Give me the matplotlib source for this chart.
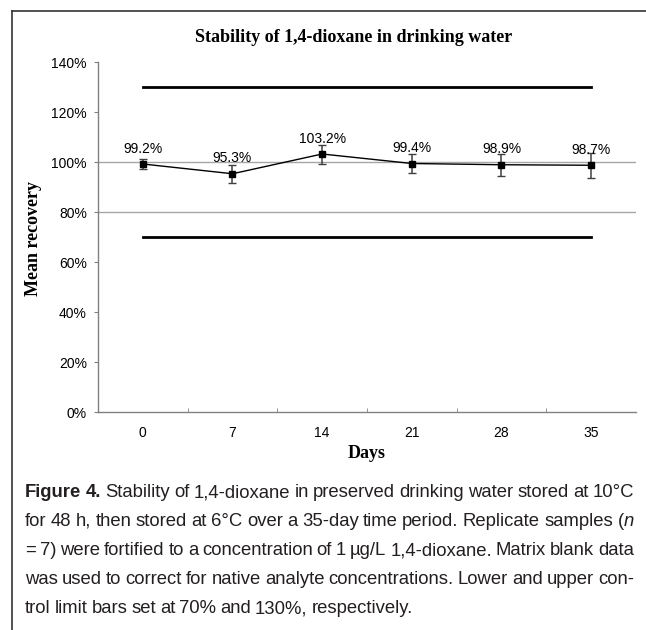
import matplotlib

matplotlib.use("Agg")
import matplotlib.pyplot as plt
from matplotlib.lines import Line2D
import numpy as np

# ---------------------------------------------------------------------------
# Data
# ---------------------------------------------------------------------------
DAYS = ["0", "7", "14", "21", "28", "35"]
MEAN_RECOVERY = [0.992, 0.953, 1.032, 0.994, 0.989, 0.987]
RECOVERY_ERR = [0.020, 0.036, 0.038, 0.038, 0.044, 0.050]
LOWER_LIMIT = 0.70
UPPER_LIMIT = 1.30
Y_TICKS = [0.0, 0.2, 0.4, 0.6, 0.8, 1.0, 1.2, 1.4]
Y_TICK_LABELS = ["0%", "20%", "40%", "60%", "80%", "100%", "120%", "140%"]
GRID_LEVELS = [0.8, 1.0]

TITLE = "Stability of 1,4-dioxane in drinking water"
X_LABEL = "Days"
Y_LABEL = "Mean recovery"

CAPTION_LINES = [
    "Figure 4. Stability of 1,4-dioxane in preserved drinking water stored at 10°C",
    "for 48 h, then stored at 6°C over a 35-day time period. Replicate samples (n",
    "= 7) were fortified to a concentration of 1 µg/L 1,4-dioxane. Matrix blank data",
    "was used to correct for native analyte concentrations. Lower and upper con-",
    "trol limit bars set at 70% and 130%, respectively.",
]

W, H = 646, 630
SANS = ["Liberation Sans", "DejaVu Sans"]
SERIF = ["Liberation Serif", "DejaVu Serif"]
CAPTION_FONT = ["Liberation Sans", "DejaVu Sans"]


def px(x, y):
    """pixel position (from top-left) -> figure fraction"""
    return x / W, 1 - y / H


def word_pieces(line_idx, word_idx, word):
    if line_idx == 0 and word_idx < 2:
        return [(word, "bold")]
    if word == "(n":
        return [("(", "normal"), ("n", "italic")]
    return [(word, "normal")]


def draw_caption(fig, x0, x1, y0, step, size):
    # justified paragraph: every line but the last is stretched to x1
    renderer = fig.canvas.get_renderer()
    for li, line in enumerate(CAPTION_LINES):
        words = []
        for wi, w in enumerate(line.split(" ")):
            pieces = []
            for txt, style in word_pieces(li, wi, w):
                t = fig.text(
                    0, 0, txt,
                    family=CAPTION_FONT,
                    fontsize=size,
                    fontweight="bold" if style == "bold" else "normal",
                    fontstyle="italic" if style == "italic" else "normal",
                    color="#231f20",
                    va="baseline",
                    ha="left",
                )
                pieces.append((t, t.get_window_extent(renderer).width))
            words.append(pieces)
        widths = [sum(p[1] for p in pieces) for pieces in words]
        last = li == len(CAPTION_LINES) - 1
        gap = size * 0.3 if last else (x1 - x0 - sum(widths)) / (len(words) - 1)
        x = x0
        y = y0 + li * step
        for pieces, wsum in zip(words, widths):
            cx = x
            for t, w in pieces:
                t.set_position(px(cx, y))
                cx += w
            x += wsum + gap


fig = plt.figure(figsize=(W / 100, H / 100), dpi=100)
fig.patch.set_facecolor("white")

ax = fig.add_axes([98 / W, 1 - 412 / H, (636 - 98) / W, (412 - 62) / H])
xs = np.arange(len(DAYS))

for lvl in GRID_LEVELS:
    ax.axhline(lvl, color="#a6a6a6", linewidth=1.0, zorder=1)

ax.plot([xs[0], xs[-1]], [UPPER_LIMIT, UPPER_LIMIT], color="black", linewidth=2.0, zorder=2)
ax.plot([xs[0], xs[-1]], [LOWER_LIMIT, LOWER_LIMIT], color="black", linewidth=2.0, zorder=2)

ax.errorbar(
    xs, MEAN_RECOVERY, yerr=RECOVERY_ERR,
    fmt="s-", color="black", markersize=4.5, linewidth=1.0,
    ecolor="#404040", elinewidth=1.1, capsize=2.6, capthick=1.0, zorder=3,
)
for x, v in zip(xs, MEAN_RECOVERY):
    ax.annotate(
        f"{v * 100:.1f}%", (x, v), xytext=(0, 11), textcoords="offset points",
        ha="center", va="center", fontsize=10, family=SANS, color="black",
    )

ax.set_xlim(-0.5, len(DAYS) - 0.5)
ax.set_ylim(0, 1.4)
ax.set_yticks(Y_TICKS)
ax.set_yticklabels(Y_TICK_LABELS, fontsize=10, family=SANS)
ax.set_xticks(xs)
ax.set_xticklabels(DAYS, fontsize=10, family=SANS)
ax.set_xticks(xs[:-1] + 0.5, minor=True)
ax.tick_params(axis="x", which="major", length=0, pad=10)
ax.tick_params(axis="x", which="minor", direction="in", length=3, color="#808080")
ax.tick_params(axis="y", direction="out", length=3, pad=5, color="#808080")
for side in ("top", "right"):
    ax.spines[side].set_visible(False)
for side in ("left", "bottom"):
    ax.spines[side].set_color("#808080")
    ax.spines[side].set_linewidth(1.0)

fig.text(*px(354, 37), TITLE, ha="center", va="center", family=SERIF,
         fontweight="bold", fontsize=13)
fig.text(*px(367, 453), X_LABEL, ha="center", va="center", family=SERIF,
         fontweight="bold", fontsize=13)
fig.text(*px(33, 238), Y_LABEL, ha="center", va="center", rotation=90,
         family=SERIF, fontweight="bold", fontsize=13)

# page frame (left and top rules)
fig.add_artist(Line2D([12 / W, 12 / W], [0, 1 - 11 / H], color="#333333", linewidth=1.2))
fig.add_artist(Line2D([12 / W, 1], [1 - 11 / H, 1 - 11 / H], color="#333333", linewidth=1.2))

draw_caption(fig, x0=25, x1=634, y0=497, step=29, size=13.3)

fig.savefig("out.png", dpi=100)
